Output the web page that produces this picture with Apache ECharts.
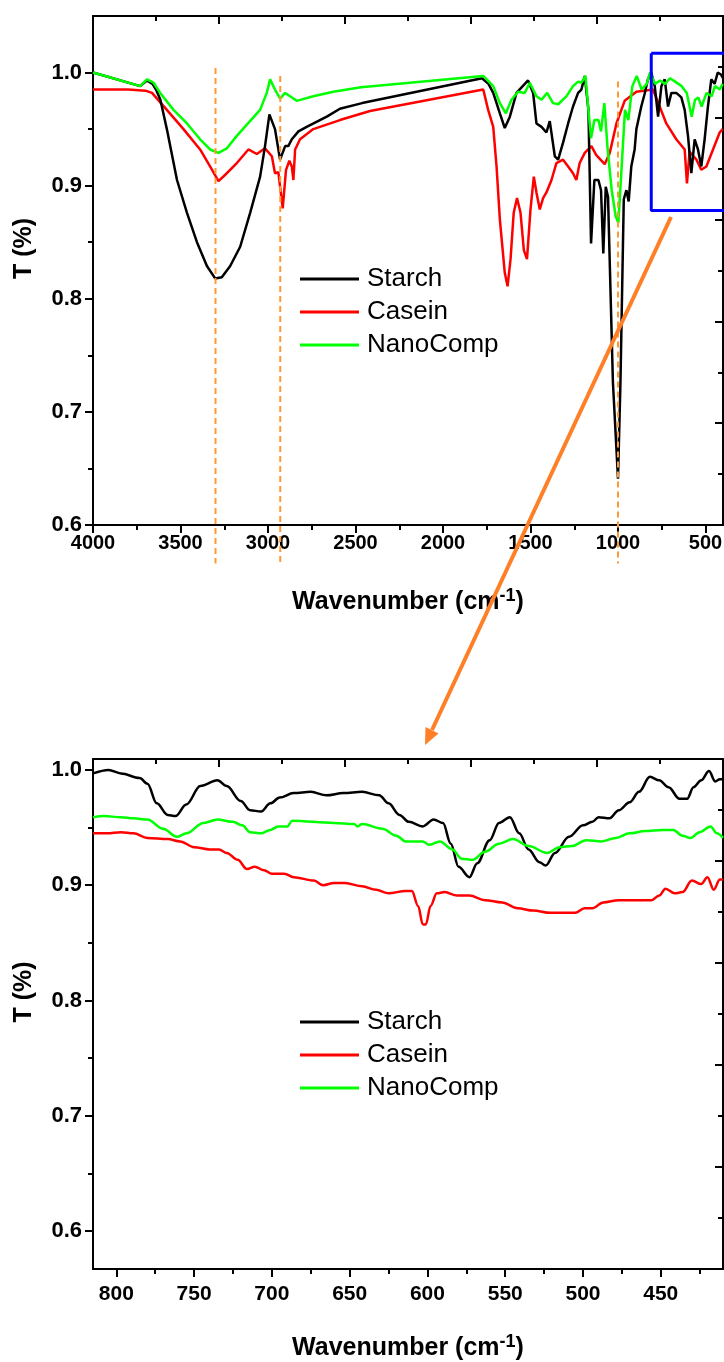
<!DOCTYPE html>
<html><head><meta charset="utf-8">
<script src="https://cdn.jsdelivr.net/npm/echarts@6/dist/echarts.min.js"></script>
<style>html,body{margin:0;padding:0;background:#fff}#c{width:724px;height:1362px}</style>
</head><body><div id="c"></div>
<script>
// ---------- data: full spectrum (wavenumber, T) ----------
const topStarch = [[4000,1.000],[3730,0.988],[3692,0.993],[3660,0.990],[3640,0.985],[3615,0.976],[3578,0.950],[3520,0.905],[3463,0.876],[3406,0.850],[3349,0.829],[3302,0.818],[3264,0.819],[3216,0.829],[3159,0.846],[3102,0.876],[3045,0.908],[3017,0.935],[2992,0.963],[2960,0.950],[2931,0.923],[2902,0.935],[2884,0.935],[2864,0.941],[2826,0.948],[2779,0.952],[2664,0.961],[2589,0.968],[2462,0.973],[1777,0.995],[1740,0.990],[1713,0.982],[1675,0.964],[1647,0.951],[1618,0.961],[1580,0.982],[1514,0.993],[1485,0.982],[1466,0.955],[1437,0.952],[1409,0.947],[1390,0.957],[1361,0.926],[1342,0.923],[1314,0.938],[1285,0.955],[1257,0.970],[1228,0.982],[1209,0.985],[1190,0.997],[1169,0.967],[1154,0.849],[1135,0.905],[1112,0.905],[1097,0.896],[1084,0.840],[1070,0.899],[1057,0.890],[1029,0.726],[1000,0.641],[986,0.726],[967,0.888],[952,0.896],[939,0.886],[924,0.917],[905,0.932],[895,0.950],[867,0.970],[848,0.981],[829,0.994],[810,1.000],[790,0.988],[771,0.961],[752,0.988],[733,0.994],[714,0.970],[695,0.982],[667,0.982],[638,0.978],[619,0.967],[600,0.944],[581,0.911],[562,0.941],[543,0.932],[524,0.917],[505,0.941],[486,0.970],[467,0.994],[448,0.990],[430,1.000],[410,0.998],[400,0.995]];
const topCasein = [[4000,0.985],[3800,0.985],[3700,0.984],[3663,0.982],[3578,0.967],[3483,0.950],[3388,0.932],[3331,0.917],[3283,0.904],[3235,0.911],[3178,0.920],[3112,0.932],[3064,0.928],[3017,0.933],[2978,0.926],[2960,0.911],[2941,0.912],[2916,0.880],[2897,0.914],[2878,0.922],[2864,0.917],[2855,0.905],[2845,0.932],[2817,0.941],[2741,0.950],[2589,0.958],[2417,0.966],[1770,0.985],[1742,0.967],[1713,0.952],[1694,0.917],[1675,0.870],[1647,0.823],[1631,0.811],[1614,0.835],[1596,0.876],[1577,0.889],[1557,0.876],[1538,0.843],[1520,0.835],[1500,0.879],[1481,0.908],[1466,0.894],[1447,0.879],[1428,0.889],[1409,0.894],[1380,0.905],[1352,0.920],[1314,0.923],[1285,0.917],[1257,0.911],[1238,0.905],[1219,0.920],[1190,0.929],[1152,0.935],[1124,0.927],[1076,0.919],[1047,0.929],[1009,0.955],[962,0.975],[895,0.983],[800,0.985],[762,0.970],[724,0.955],[667,0.941],[619,0.932],[606,0.902],[591,0.930],[552,0.923],[524,0.914],[495,0.917],[457,0.932],[419,0.947],[402,0.950]];
const topNano = [[4000,1.000],[3730,0.988],[3692,0.994],[3654,0.991],[3616,0.982],[3540,0.967],[3463,0.955],[3388,0.941],[3331,0.932],[3283,0.929],[3235,0.933],[3178,0.944],[3121,0.954],[3045,0.967],[3007,0.982],[2988,0.994],[2960,0.985],[2931,0.977],[2902,0.982],[2874,0.979],[2836,0.975],[2741,0.979],[2627,0.983],[2469,0.987],[1770,0.997],[1713,0.988],[1675,0.973],[1641,0.964],[1609,0.976],[1571,0.983],[1533,0.982],[1504,0.991],[1466,0.979],[1437,0.976],[1405,0.982],[1371,0.973],[1342,0.972],[1295,0.979],[1257,0.988],[1228,0.992],[1209,0.991],[1186,0.997],[1169,0.967],[1154,0.942],[1135,0.958],[1112,0.958],[1097,0.948],[1078,0.973],[1059,0.932],[1036,0.896],[1013,0.873],[998,0.867],[979,0.917],[960,0.967],[941,0.958],[918,0.988],[893,0.997],[865,0.985],[836,0.990],[817,1.000],[788,0.990],[760,0.993],[731,0.990],[703,0.995],[674,0.992],[636,0.988],[607,0.982],[579,0.961],[560,0.976],[541,0.978],[522,0.970],[494,0.982],[465,0.979],[446,0.988],[418,0.985],[402,0.990]];

// ---------- data: zoomed region 815-410 cm-1 ----------
const zoomStarch = [[815,0.997],[805,1.000],[797,0.997],[785,0.993],[780,0.988],[774,0.971],[767,0.961],[762,0.960],[755,0.970],[746,0.986],[735,0.991],[729,0.986],[720,0.973],[714,0.965],[707,0.964],[701,0.971],[695,0.976],[686,0.980],[675,0.981],[665,0.978],[654,0.980],[642,0.981],[631,0.978],[625,0.971],[618,0.961],[612,0.955],[603,0.951],[596,0.957],[590,0.954],[585,0.936],[580,0.916],[573,0.907],[568,0.919],[560,0.939],[554,0.954],[547,0.959],[541,0.945],[535,0.931],[528,0.920],[524,0.917],[518,0.928],[509,0.942],[500,0.952],[494,0.955],[490,0.959],[483,0.958],[477,0.965],[470,0.972],[464,0.981],[457,0.994],[451,0.991],[445,0.985],[438,0.975],[433,0.975],[429,0.985],[424,0.991],[419,0.999],[415,0.990],[412,0.992],[410,0.992]];
const zoomCasein = [[815,0.945],[806,0.945],[797,0.946],[789,0.945],[780,0.941],[767,0.940],[759,0.938],[750,0.933],[740,0.931],[734,0.931],[729,0.928],[722,0.922],[716,0.914],[711,0.916],[705,0.913],[700,0.910],[692,0.910],[686,0.907],[673,0.904],[667,0.900],[660,0.902],[653,0.902],[642,0.899],[633,0.896],[625,0.893],[614,0.895],[610,0.895],[606,0.882],[603,0.866],[601,0.866],[598,0.882],[594,0.893],[589,0.894],[581,0.891],[573,0.891],[563,0.887],[552,0.885],[542,0.880],[532,0.878],[521,0.876],[513,0.876],[505,0.876],[499,0.880],[494,0.880],[487,0.885],[477,0.887],[466,0.887],[456,0.887],[451,0.891],[447,0.897],[441,0.893],[436,0.894],[430,0.904],[424,0.901],[420,0.907],[416,0.896],[412,0.905],[410,0.905]];
const zoomNano = [[815,0.959],[808,0.960],[797,0.959],[789,0.958],[780,0.957],[770,0.949],[761,0.942],[755,0.945],[744,0.954],[735,0.957],[725,0.955],[719,0.952],[714,0.946],[707,0.945],[701,0.948],[696,0.951],[690,0.951],[687,0.956],[660,0.954],[647,0.953],[645,0.951],[642,0.953],[629,0.949],[620,0.943],[614,0.938],[603,0.938],[599,0.935],[592,0.938],[584,0.931],[578,0.923],[571,0.922],[563,0.929],[554,0.936],[545,0.940],[535,0.934],[523,0.928],[515,0.933],[507,0.934],[498,0.939],[488,0.938],[479,0.941],[470,0.945],[460,0.947],[449,0.948],[442,0.948],[436,0.943],[431,0.941],[425,0.946],[418,0.951],[414,0.945],[410,0.941]];

// ---------- annotations / ticks ----------
const bandLines = [3300, 2930, 1000];          // dashed guide wavenumbers
const bandTops = [1.004, 0.997, 0.992];
const bandBottom = 0.566;
const zoomBox = [[810,1.017],[380,1.017],[380,0.878],[810,0.878],[810,1.017]];
const topXTicks = [4000,3500,3000,2500,2000,1500,1000,500];
const topXMinor = [3750,3250,2750,2250,1750,1250,750];
const zoomXTicks = [800,750,700,650,600,550,500,450];
const zoomXMinor = [775,725,675,625,575,525,475,425];
const yTicks = [0.6,0.7,0.8,0.9,1.0];
const yMinor = [0.65,0.75,0.85,0.95];
const names = ['Starch','Casein','NanoComp'];
const colors = ['#000000','#ff0000','#00ff00'];

const FONT = '"Liberation Sans", Arial, Helvetica, sans-serif';
const black = {color:'#000', width:2};

function xAxes(grid, min, max, ticks, minor, labelMargin, nameGap, labelSize) {
  return [
    { gridIndex:grid, type:'value', position:'bottom', min, max, inverse:true,
      axisLine:{show:true, onZero:false, lineStyle:black},
      axisTick:{show:true, length:8, customValues:ticks, lineStyle:black},
      axisLabel:{show:true, customValues:ticks, margin:labelMargin, color:'#000', fontSize:labelSize, fontWeight:'bold', fontFamily:FONT,
                 formatter:v => String(v)},
      splitLine:{show:false},
      name:'{a|Wavenumber (cm}{b|-1}{a|)}', nameLocation:'middle', nameGap,
      nameTextStyle:{rich:{
        a:{fontSize:25, fontWeight:'bold', fontFamily:FONT, color:'#000', lineHeight:30},
        b:{fontSize:18, fontWeight:'bold', fontFamily:FONT, color:'#000', lineHeight:18, verticalAlign:'top'}}}
    },
    { gridIndex:grid, type:'value', position:'bottom', min, max, inverse:true,
      axisLine:{show:false}, axisTick:{show:true, length:5, customValues:minor, lineStyle:black},
      axisLabel:{show:false}, splitLine:{show:false} },
    { gridIndex:grid, type:'value', position:'top', min:0, max:10, interval:2,
      axisLine:{show:true, onZero:false, lineStyle:black},
      axisTick:{show:true, inside:true, length:8, lineStyle:black},
      minorTick:{show:true, splitNumber:2, length:5, lineStyle:black},
      axisLabel:{show:false}, splitLine:{show:false}, minorSplitLine:{show:false} }
  ];
}
function yAxes(grid, min, max) {
  return [
    { gridIndex:grid, type:'value', position:'left', min, max,
      axisLine:{show:true, onZero:false, lineStyle:black},
      axisTick:{show:true, length:8, customValues:yTicks, lineStyle:black},
      axisLabel:{show:true, customValues:yTicks, margin:11, color:'#000', fontSize:22, fontWeight:'bold', fontFamily:FONT,
                 formatter:v => v.toFixed(1)},
      splitLine:{show:false},
      name:'T (%)', nameLocation:'middle', nameGap:56,
      nameTextStyle:{fontSize:25, fontWeight:'bold', fontFamily:FONT, color:'#000', padding:[0,0,0,44]} },
    { gridIndex:grid, type:'value', position:'left', min, max,
      axisLine:{show:false}, axisTick:{show:true, length:5, customValues:yMinor, lineStyle:black},
      axisLabel:{show:false}, splitLine:{show:false} },
    { gridIndex:grid, type:'value', position:'right', min:0, max:10, interval:2,
      axisLine:{show:true, onZero:false, lineStyle:black},
      axisTick:{show:true, inside:true, length:8, lineStyle:black},
      minorTick:{show:true, splitNumber:2, length:5, lineStyle:black},
      axisLabel:{show:false}, splitLine:{show:false}, minorSplitLine:{show:false} }
  ];
}

function curve(name, data, xi, yi, z, smooth) {
  const c = colors[names.indexOf(name)];
  return { type:'line', name, data, xAxisIndex:xi, yAxisIndex:yi, symbol:'none', showSymbol:false,
           smooth, smoothMonotone:'x',
           color:c, lineStyle:{color:c, width:2.5}, z, silent:true };
}

const series = [];
// top chart: casein, starch, nanocomp
series.push(curve('Casein', topCasein, 0, 0, 2, false));
series.push(curve('Starch', topStarch, 0, 0, 3, false));
series.push(curve('NanoComp', topNano, 0, 0, 4, false));
bandLines.forEach((w, i) => {
  series.push({ type:'line', data:[[w, bandTops[i]],[w, bandBottom]], xAxisIndex:0, yAxisIndex:0,
    symbol:'none', clip:false, silent:true, z:6,
    lineStyle:{color:'#ff9a33', width:2, type:[6,4]} });
});
series.push({ type:'line', data:zoomBox, xAxisIndex:0, yAxisIndex:0, symbol:'none', clip:false, silent:true, z:7,
  lineStyle:{color:'#0000ff', width:3} });
// bottom chart
series.push(curve('Casein', zoomCasein, 3, 3, 2, 0.35));
series.push(curve('Starch', zoomStarch, 3, 3, 3, 0.35));
series.push(curve('NanoComp', zoomNano, 3, 3, 4, 0.35));

function legend(top) {
  return { show:true, orient:'vertical', left:300, top, data:names, icon:'rect', itemWidth:59, itemHeight:3,
    itemGap:7, padding:0, selectedMode:false,
    textStyle:{fontSize:26, fontFamily:FONT, color:'#000', lineHeight:26, padding:[0,0,0,3]} };
}

const chart = echarts.init(document.getElementById('c'), null, {renderer:'canvas'});
chart.setOption({
  animation:false,
  backgroundColor:'#fff',
  grid:[
    {left:93, top:16, width:630, height:509, containLabel:false, outerBoundsMode:'none'},
    {left:93, top:759, width:630, height:510, containLabel:false, outerBoundsMode:'none'}
  ],
  xAxis:[].concat(xAxes(0, 400, 4000, topXTicks, topXMinor, 8, 62, 20),
                  xAxes(1, 410, 815, zoomXTicks, zoomXMinor, 15, 64, 21)),
  yAxis:[].concat(yAxes(0, 0.6, 1.05), yAxes(1, 0.567, 1.0095)),
  legend:[legend(266), legend(1009)],
  series,
  graphic:[
    { type:'polyline', shape:{points:[[671,217],[432,730]]}, style:{stroke:'#ff7f27', lineWidth:4}, z:10 },
    { type:'polygon', shape:{points:[[425,745],[438.5,733.5],[425.5,727]]}, style:{fill:'#ff7f27'}, z:10 }
  ]
});
</script></body></html>
